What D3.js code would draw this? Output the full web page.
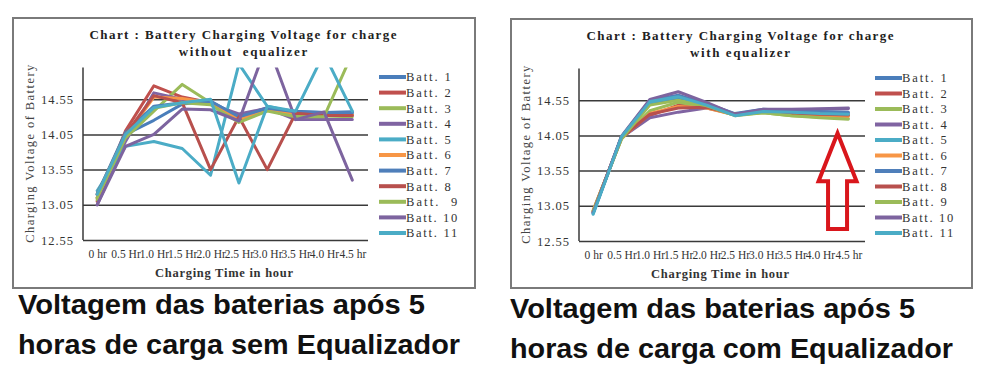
<!DOCTYPE html>
<html><head><meta charset="utf-8">
<script src="https://cdn.jsdelivr.net/npm/d3@7"></script>
<style>
html,body{margin:0;padding:0;background:#fff;}
svg{display:block;}
</style></head>
<body>
<svg id="chart" width="1000" height="370"></svg>
<script>
// ---------- data ----------
const categories = ["0 hr","0.5 Hr","1.0 Hr","1.5 Hr","2.0 Hr","2.5 Hr","3.0 Hr","3.5 Hr","4.0 Hr","4.5 hr"];
const yTicks = [12.55, 13.05, 13.55, 14.05, 14.55];
const legendLeft  = ["Batt. 1","Batt. 2","Batt. 3","Batt. 4","Batt. 5","Batt. 6","Batt. 7","Batt. 8","Batt.  9","Batt. 10","Batt. 11"];
const legendRight = ["Batt. 1","Batt. 2","Batt. 3","Batt. 4","Batt. 5","Batt. 6","Batt. 7","Batt. 8","Batt. 9","Batt. 10","Batt. 11"];
const colors = ["#4a7ebb","#c0504d","#9bbb59","#8064a2","#4bacc6","#f79646","#4f7fba","#b8504d","#9bbb59","#7d649f","#4bacc6"];

// without equalizer
const woBatt1  = [13.15, 14.05, 14.25, 14.48, 14.52, 14.30, 14.43, 14.38, 14.36, 14.37];
const woBatt2  = [13.10, 14.10, 14.74, 14.58, 14.50, 14.28, 14.42, 14.35, 14.33, 14.33];
const woBatt3  = [13.12, 14.00, 14.38, 14.76, 14.50, 14.24, 14.40, 14.33, 14.31, 14.30];
const woBatt4  = [13.05, 13.95, 14.64, 14.55, 14.48, 14.34, 14.42, 14.26, 14.26, 14.26];
const woBatt5  = [13.25, 13.88, 13.95, 13.85, 13.47, 15.05, 14.45, 14.36, 14.34, 14.35];
const woBatt6  = [13.15, 14.02, 14.58, 14.56, 14.50, 14.26, 14.40, 14.35, 14.33, 14.33];
const woBatt7  = [13.20, 14.08, 14.45, 14.50, 14.52, 14.30, 14.42, 14.37, 14.36, 14.36];
const woBatt8  = [13.20, 14.05, 14.60, 14.50, 13.55, 14.30, 13.55, 14.35, 14.32, 14.32];
const woBatt9  = [13.15, 14.00, 14.42, 14.50, 14.47, 14.22, 14.38, 14.30, 14.30, 15.20];
const woBatt10 = [13.05, 13.88, 14.05, 14.41, 14.40, 14.24, 15.35, 14.26, 14.37, 13.40];
const woBatt11 = [13.20, 14.05, 14.43, 14.50, 14.55, 13.36, 14.45, 14.38, 15.20, 14.38];

// with equalizer
const wBatt1  = [12.95, 14.03, 14.50, 14.58, 14.50, 14.36, 14.42, 14.40, 14.38, 14.37];
const wBatt2  = [12.97, 14.02, 14.33, 14.48, 14.46, 14.35, 14.39, 14.36, 14.34, 14.33];
const wBatt3  = [12.98, 14.00, 14.40, 14.52, 14.45, 14.34, 14.37, 14.33, 14.31, 14.29];
const wBatt4  = [12.96, 14.02, 14.30, 14.38, 14.44, 14.35, 14.40, 14.41, 14.42, 14.43];
const wBatt5  = [12.94, 14.03, 14.52, 14.60, 14.50, 14.35, 14.40, 14.38, 14.37, 14.36];
const wBatt6  = [12.99, 14.01, 14.36, 14.46, 14.44, 14.34, 14.38, 14.35, 14.33, 14.32];
const wBatt7  = [12.95, 14.03, 14.55, 14.62, 14.50, 14.34, 14.41, 14.40, 14.39, 14.38];
const wBatt8  = [12.97, 14.02, 14.35, 14.44, 14.45, 14.35, 14.38, 14.36, 14.35, 14.34];
const wBatt9  = [12.98, 14.00, 14.48, 14.55, 14.47, 14.33, 14.37, 14.33, 14.30, 14.28];
const wBatt10 = [12.95, 14.04, 14.56, 14.67, 14.52, 14.35, 14.42, 14.42, 14.43, 14.44];
const wBatt11 = [12.93, 14.03, 14.53, 14.60, 14.48, 14.33, 14.39, 14.38, 14.36, 14.35];

const withoutEq = [woBatt1,woBatt2,woBatt3,woBatt4,woBatt5,woBatt6,woBatt7,woBatt8,woBatt9,woBatt10,woBatt11];
const withEq    = [wBatt1,wBatt2,wBatt3,wBatt4,wBatt5,wBatt6,wBatt7,wBatt8,wBatt9,wBatt10,wBatt11];

const yMin = 12.55, yMax = 15.0;
const captionLeft  = ["Voltagem das baterias após 5", "horas de carga sem Equalizador"];
const captionRight = ["Voltagem das baterias após 5", "horas de carga com Equalizador"];
const titleLeft  = ["Chart : Battery Charging Voltage for charge", "without  equalizer"];
const titleRight = ["Chart : Battery Charging Voltage for charge", "with equalizer"];

// ---------- drawing ----------
const svg = d3.select("#chart");
const SERIF = "'Liberation Serif', 'DejaVu Serif', serif";
const SANS = "'Liberation Sans', Arial, sans-serif";
const CHAR_W = 6.4; // monospace-like advance used by the original chart font

function drawPanel(cfg, idx) {
  const g = svg.append("g");
  g.append("rect").attr("x", cfg.box[0]).attr("y", cfg.box[1])
    .attr("width", cfg.box[2]-cfg.box[0]).attr("height", cfg.box[3]-cfg.box[1])
    .attr("fill", "#fff").attr("stroke", "#7a7a7a").attr("stroke-width", 2);

  const x = d3.scalePoint().domain(categories).range([cfg.px0, cfg.px1]).padding(0.5);
  const y = d3.scaleLinear().domain([yMin, yMax]).range([cfg.py1, cfg.py0]);

  // title
  cfg.title.forEach((t, i) => {
    g.append("text").attr("x", cfg.titleX).attr("y", cfg.titleY + i*17)
      .attr("text-anchor", "middle").attr("font-family", SERIF).attr("font-weight", "bold")
      .attr("font-size", 13).attr("fill", "#222").style("white-space", "pre")
      .attr("textLength", t.length * 7.14).attr("lengthAdjust", "spacing").text(t);
  });

  // gridlines via axis
  const yAxis = d3.axisLeft(y).tickValues(yTicks).tickSize(-(cfg.gx1 - cfg.px0)).tickFormat(d3.format(".2f")).tickPadding(10);
  const ya = g.append("g").attr("transform", `translate(${cfg.px0},0)`).call(yAxis);
  ya.select(".domain").remove();
  ya.selectAll(".tick line").attr("stroke", "#3a3a3a").attr("stroke-width", 1.5);
  ya.selectAll(".tick text").attr("font-family", SERIF).attr("font-size", 12.5).attr("fill", "#333")
    .attr("textLength", 32).attr("lengthAdjust", "spacing");
  g.append("line").attr("x1", cfg.px0).attr("x2", cfg.px0).attr("y1", cfg.py0).attr("y2", cfg.py1)
    .attr("stroke", "#3a3a3a").attr("stroke-width", 1.5);

  // x axis labels
  const xAxis = d3.axisBottom(x).tickSize(0).tickPadding(10);
  const xa = g.append("g").attr("transform", `translate(0,${cfg.py1})`).call(xAxis);
  xa.select(".domain").remove();
  xa.selectAll(".tick text").attr("font-family", SERIF).attr("font-size", 11.5).attr("fill", "#333");

  // axis titles
  g.append("text").attr("transform", `translate(${cfg.yTitleX},${(cfg.py0+cfg.py1)/2}) rotate(-90)`)
    .attr("text-anchor", "middle").attr("dy", "0.35em").attr("font-family", SERIF).attr("font-size", 12.5)
    .attr("fill", "#444").attr("textLength", 178).attr("lengthAdjust", "spacing")
    .text("Charging Voltage of Battery");
  g.append("text").attr("x", cfg.xTitleX).attr("y", cfg.py1 + 37)
    .attr("text-anchor", "middle").attr("font-family", SERIF).attr("font-weight", "bold").attr("font-size", 12.5)
    .attr("fill", "#333").attr("textLength", 138).attr("lengthAdjust", "spacing")
    .text("Charging Time in hour");

  // clip
  const clipId = "clip" + idx;
  svg.append("clipPath").attr("id", clipId).append("rect")
    .attr("x", cfg.px0).attr("y", cfg.py0).attr("width", cfg.gx1 - cfg.px0).attr("height", cfg.py1 - cfg.py0);

  const line = d3.line().x((d, i) => x(categories[i])).y(d => y(d));
  g.append("g").attr("clip-path", `url(#${clipId})`)
    .selectAll("path").data(cfg.series).join("path")
    .attr("d", d => line(d)).attr("fill", "none")
    .attr("stroke", (d, i) => colors[i]).attr("stroke-width", 3)
    .attr("stroke-linejoin", "round").attr("stroke-linecap", "round");

  // legend
  const lg = g.append("g");
  cfg.legend.forEach((name, i) => {
    const yy = cfg.legY + i * cfg.legStep;
    lg.append("line").attr("x1", cfg.legX).attr("x2", cfg.legX + 27).attr("y1", yy).attr("y2", yy)
      .attr("stroke", colors[i]).attr("stroke-width", 4);
    lg.append("text").attr("x", cfg.legX + 27).attr("y", yy).attr("dy", "0.35em")
      .attr("font-family", SERIF).attr("font-size", 12.5).attr("fill", "#333")
      .style("white-space", "pre").attr("textLength", name.length * CHAR_W).attr("lengthAdjust", "spacing")
      .text(name);
  });

  // caption
  cfg.caption.forEach((t, i) => {
    svg.append("text").attr("x", cfg.capX).attr("y", cfg.capY + i*40)
      .attr("font-family", SANS).attr("font-weight", "bold")
      .attr("font-size", 27).attr("fill", "#111")
      .attr("textLength", cfg.capW[i]).attr("lengthAdjust", "spacingAndGlyphs").text(t);
  });
  return {x, y, g};
}

drawPanel({
  box: [13, 18, 475, 288], px0: 83, px1: 366.5, gx1: 368, py0: 67.5, py1: 240,
  title: titleLeft, titleX: 243, titleY: 39, yTitleX: 30, xTitleX: 224,
  series: withoutEq, legend: legendLeft, legX: 379, legY: 77, legStep: 15.6,
  caption: captionLeft, capX: 18, capY: 314, capW: [407, 442]
}, 0);

const right = drawPanel({
  box: [511, 19, 972, 288], px0: 579, px1: 862.5, gx1: 865, py0: 68.5, py1: 241,
  title: titleRight, titleX: 740, titleY: 40, yTitleX: 526, xTitleX: 720,
  series: withEq, legend: legendRight, legX: 875, legY: 78, legStep: 15.5,
  caption: captionRight, capX: 510, capY: 318, capW: [405, 443]
}, 1);

// annotation arrow (hollow, red) placed in the "with equalizer" plot's coordinates
const arrowCenter = right.x(categories[8]) + 0.62 * right.x.step();
const arrowTipV = 14.08, arrowHeadV = 13.4, arrowBaseV = 12.72;
const hw = 19, sw = 9.5;
const tipY = right.y(arrowTipV), headY = right.y(arrowHeadV), baseY = right.y(arrowBaseV);
const arrowPts = [
  [arrowCenter, tipY], [arrowCenter + hw, headY], [arrowCenter + sw, headY],
  [arrowCenter + sw, baseY], [arrowCenter - sw, baseY], [arrowCenter - sw, headY],
  [arrowCenter - hw, headY]
];
right.g.append("path").attr("d", d3.line()(arrowPts) + "Z")
  .attr("fill", "none").attr("stroke", "#d9161c").attr("stroke-width", 4).attr("stroke-linejoin", "miter");
</script>
</body></html>
